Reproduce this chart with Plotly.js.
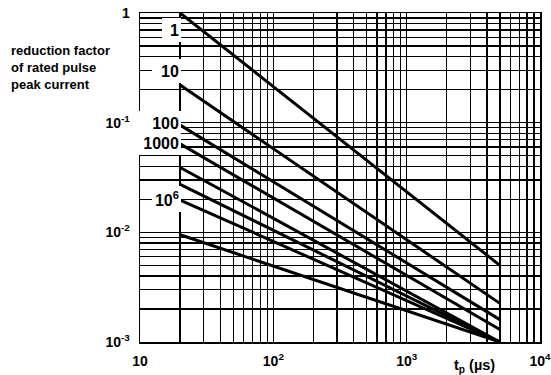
<!DOCTYPE html>
<html>
<head>
<meta charset="utf-8">
<script src="https://cdn.plot.ly/plotly-3.0.1.min.js"></script>
<style>
html,body{margin:0;padding:0;background:#fff;}
#chart{width:551px;height:375px;}
</style>
</head>
<body>
<div id="chart"></div>
<script>
// Pulse duration tp (µs): start and end of each curve
const tpStart = 20;
const tpEnd = 5000;
// number of pulses per curve
const pulseCounts = ['1', '10', '100', '1000', '10^4', '10^5', '10^6', '10^7'];
// reduction factor at start (tp = 20 µs) and end (tp = 5000 µs)
const factorStart = [1.0, 0.22, 0.095, 0.064, 0.039, 0.0274, 0.0197, 0.0095];
const factorEnd   = [0.005, 0.00225, 0.0016, 0.0013, 0.001, 0.001, 0.001, 0.001];
// axis ticks
const xTickVals = [10, 100, 1000, 10000];
const xTickText = ['10', '10<sup>2</sup>', '10<sup>3</sup>', '10<sup>4</sup>'];
const yTickVals = [0.001, 0.01, 0.1, 1];
const yTickText = ['10<sup>-3</sup>', '10<sup>-2</sup>', '10<sup>-1</sup>', '1'];
// curve labels
const curveLabels = ['1', '10', '100', '1000', '10<sup>6</sup>'];

const W = 551, H = 375;
const M = {l: 140, r: 11, t: 13, b: 33};
const PW = W - M.l - M.r, PH = H - M.t - M.b;
const px = X => (X - M.l) / PW;
const py = Y => 1 - (Y - M.t) / PH;

const FONT = 'Liberation Sans, Arial, Helvetica, sans-serif';

const traces = pulseCounts.map((n, i) => ({
  type: 'scatter',
  mode: 'lines',
  name: n,
  x: [tpStart, tpEnd],
  y: [factorStart[i], factorEnd[i]],
  line: {color: '#000', width: 3},
  hoverinfo: 'skip'
}));

// label boxes: [right, left, centerY, textHeight] in px
const boxes = [
  [181, 162, 30, 20],
  [181, 152, 71, 20],
  [181, 136, 123, 20],
  [181, 134, 143, 20],
  [181, 152, 199, 22]
];
const PAD = 2;

const annotations = curveLabels.map((t, i) => {
  const b = boxes[i];
  return {
    text: t,
    xref: 'paper', yref: 'paper',
    x: px(b[0]), y: py(b[2]),
    xanchor: 'right', yanchor: 'middle',
    width: b[0] - b[1] - 2 * PAD, height: b[3],
    align: 'right',
    showarrow: false,
    bgcolor: '#fff',
    borderpad: PAD, borderwidth: 0,
    font: {family: FONT, size: 16, color: '#000', weight: 'bold'}
  };
});

annotations.push({
  text: 'reduction factor<br>of rated pulse<br>peak current',
  xref: 'paper', yref: 'paper',
  x: px(9), y: py(68),
  xanchor: 'left', yanchor: 'middle',
  align: 'left',
  showarrow: false,
  font: {family: FONT, size: 13, color: '#000', weight: 'bold'}
});

annotations.push({
  text: 't<sub>p</sub> (µs)',
  xref: 'paper', yref: 'paper',
  x: px(474), y: py(366),
  xanchor: 'center', yanchor: 'middle',
  showarrow: false,
  font: {family: FONT, size: 14.5, color: '#000', weight: 'bold'}
});

const axisCommon = {
  type: 'log',
  showline: true, mirror: true, linecolor: '#000', linewidth: 1.5,
  showgrid: true, gridcolor: '#000', gridwidth: 1.4,
  zeroline: false,
  ticks: '',
  tickmode: 'array',
  ticklabeloverflow: 'allow',
  tickfont: {family: FONT, size: 14, color: '#000', weight: 'bold'},
  minor: {dtick: 'D1', showgrid: true, gridcolor: '#000', gridwidth: 1.4, ticks: ''},
  fixedrange: true
};

const layout = {
  width: W, height: H,
  margin: M,
  paper_bgcolor: '#fff', plot_bgcolor: '#fff',
  showlegend: false,
  hovermode: false,
  xaxis: Object.assign({}, axisCommon, {
    range: [1, 4],
    tickvals: xTickVals, ticktext: xTickText,
    ticklabelstandoff: 6
  }),
  yaxis: Object.assign({}, axisCommon, {
    range: [-3, 0],
    tickvals: yTickVals, ticktext: yTickText,
    ticklabelstandoff: 6
  }),
  annotations: annotations
};

Plotly.newPlot('chart', traces, layout, {displayModeBar: false, staticPlot: true});
</script>
</body>
</html>
